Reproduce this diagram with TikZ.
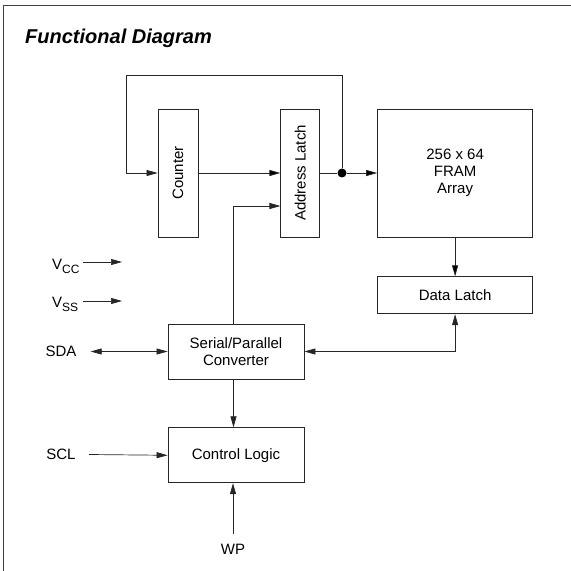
\documentclass[tikz,border=0pt]{standalone}
\usepackage{fontspec}
\setmainfont{Liberation Sans}
\usetikzlibrary{positioning}
\usetikzlibrary{arrows.meta}
\newcommand{\pinsub}[1]{\raisebox{-3.5pt}{\fontsize{12}{13}\selectfont #1}}
\tikzset{block node/.style={draw=black!85,line width=0.8pt,minimum width=136pt,minimum height=55pt,inner sep=0pt,align=center},
pin node/.style={inner sep=0pt},
sig/.style={draw=black!85,line width=0.7pt,-{Triangle[length=11pt,width=6pt]}},
bisig/.style={sig,{Triangle[length=11pt,width=6pt]}-{Triangle[length=11pt,width=6pt]}},}

\begin{document}
\begin{tikzpicture}[x=1pt,y=1pt,font=\fontsize{15}{17}\selectfont]
    \useasboundingbox (0,0) rectangle (571,571);
    \draw[line width=1pt,black!75] (3,0) -- (3,565.5) -- (571,565.5);
    \node[anchor=base west,inner sep=0pt,font=\fontsize{20}{24}\selectfont\bfseries\itshape] (title) at (25,527.5) {Functional Diagram};

    \node[block node,minimum width=40pt,minimum height=128pt] (1) at (178,398) {\rotatebox{90}{Counter}};
    \node[block node,minimum width=39pt,minimum height=128pt] (2) [right = 82pt of 1] {\rotatebox{90}{Address Latch}};
    \node[block node,minimum width=155pt,minimum height=128pt] (3) [right = 57pt of 2] {\raisebox{7pt}{\begin{tabular}{@{}c@{}}256 x 64\\FRAM\\Array\end{tabular}}};
    \node[block node,minimum width=155pt,minimum height=37pt] (4) [below = 39pt of 3] {Data Latch};
    \node[block node] (5) at (236,219.5) {Serial/Parallel\\Converter};
    \node[block node] (6) [below = 48pt of 5] {Control Logic};
    \node[circle,fill=black,inner sep=0pt,minimum size=9pt] (dot) at (342,398) {};

    \node[pin node,anchor=base west] (vcc) at (52,301) {V\pinsub{CC}};
    \node[pin node,anchor=base west] (vss) at (52,263) {V\pinsub{SS}};
    \node[pin node] (sda) at (61,219.5) {SDA};
    \node[pin node] (scl) at (61,116.5) {SCL};
    \node[pin node] (wp) at (233,22) {WP};
    \coordinate (vccin) at (122,309);
    \coordinate (vssin) at (122,270);
    \coordinate (top) at (126,496);

    \path[sig]
    (1) edge (2)
    (dot) edge (3)
    (3) edge (4);
    \draw[sig,-] (2.east) -- (dot);
    \draw[sig] (dot) |- (top) |- (1.west);
    \draw[sig] ([xshift=-2.5pt]5.north) |- ([yshift=-33pt]2.west);
    \draw[sig] ([xshift=-2.5pt]5.south) -- ([xshift=-2.5pt]6.north);
    \draw[bisig] (5.east) -| (4.south);
    \draw[bisig] ([xshift=14pt]sda.east) -- (5.west);
    \draw[sig] ([xshift=13pt]scl.east) -- (6.west);
    \draw[sig] ([xshift=-39pt]vccin) -- (vccin);
    \draw[sig] ([xshift=-39pt]vssin) -- (vssin);
    \draw[sig] ([yshift=10pt]wp.north) -- (wp.north |- 6.south);
  \end{tikzpicture}
\end{document}
